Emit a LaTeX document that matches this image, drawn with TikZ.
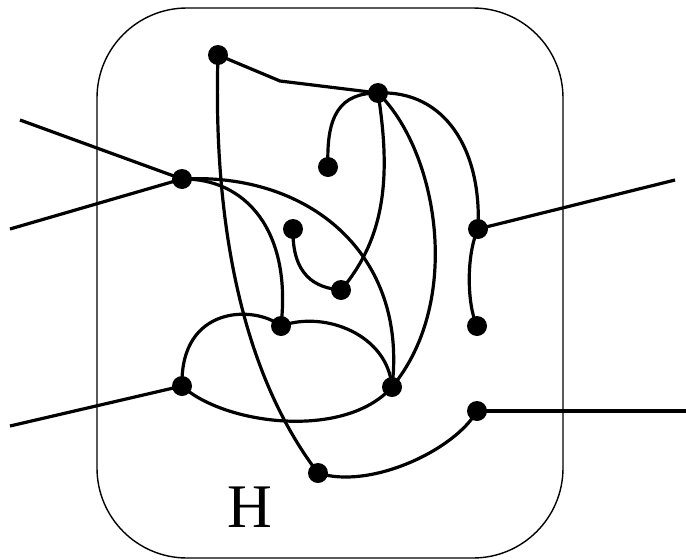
\documentclass[tikz,border=0pt]{standalone}
\usepackage{fontspec}
\setmainfont{Liberation Serif}
\begin{document}
\begin{tikzpicture}[x=1pt,y=-1pt,
  dot/.style={circle, fill=black, inner sep=0pt, minimum size=20pt},
  edge/.style={line width=3.2pt, line join=round},
  frame/.style={line width=1.4pt, rounded corners=90pt}]
\useasboundingbox (0,0) rectangle (686,560);
\draw[frame] (97,8) rectangle (563,558);
% nodes
\node[dot] (A) at (218,55) {};
\node[dot] (B) at (378,93) {};
\node[dot] (C) at (328,167) {};
\node[dot] (D) at (182,179) {};
\node[dot] (E) at (478,229) {};
\node[dot] (F) at (293,229) {};
\node[dot] (G) at (341,290) {};
\node[dot] (I) at (281,326) {};
\node[dot] (J) at (477,326) {};
\node[dot] (K) at (182,386) {};
\node[dot] (L) at (392,387) {};
\node[dot] (M) at (477,411) {};
\node[dot] (N) at (318,473) {};
\node[font=\fontsize{62}{62}\selectfont] (H) at (250,507) {H};
% free ends
\coordinate (ab) at (280,81);
\coordinate (d1) at (20,120);
\coordinate (d2) at (10,229);
\coordinate (e1) at (675,180);
\coordinate (k1) at (10,426);
\coordinate (m1) at (686,411);
% connectors
\draw[edge] (A.center) -- (ab) -- (B.center);
\draw[edge] (A.center) .. controls (214,180) and (228,355) .. (N.center);
\draw[edge] (B.center) .. controls (340,93) and (326,115) .. (C.center);
\draw[edge] (B.center) .. controls (390,170) and (388,235) .. (G.center);
\draw[edge] (B.center) .. controls (437,150) and (464,300) .. (L.center);
\draw[edge] (B.center) .. controls (445,90) and (482,150) .. (E.center);
\draw[edge] (E.center) .. controls (466,255) and (467,305) .. (J.center);
\draw[edge] (D.center) .. controls (310,172) and (408,255) .. (L.center);
\draw[edge] (D.center) .. controls (245,178) and (292,230) .. (I.center);
\draw[edge] (F.center) .. controls (292,275) and (315,288) .. (G.center);
\draw[edge] (I.center) .. controls (255,305) and (180,305) .. (K.center);
\draw[edge] (I.center) .. controls (325,310) and (388,335) .. (L.center);
\draw[edge] (K.center) .. controls (225,425) and (345,440) .. (L.center);
\draw[edge] (N.center) .. controls (370,490) and (455,450) .. (M.center);
\draw[edge] (D.center) -- (d1);
\draw[edge] (D.center) -- (d2);
\draw[edge] (E.center) -- (e1);
\draw[edge] (K.center) -- (k1);
\draw[edge] (M.center) -- (m1);
\end{tikzpicture}
\end{document}
